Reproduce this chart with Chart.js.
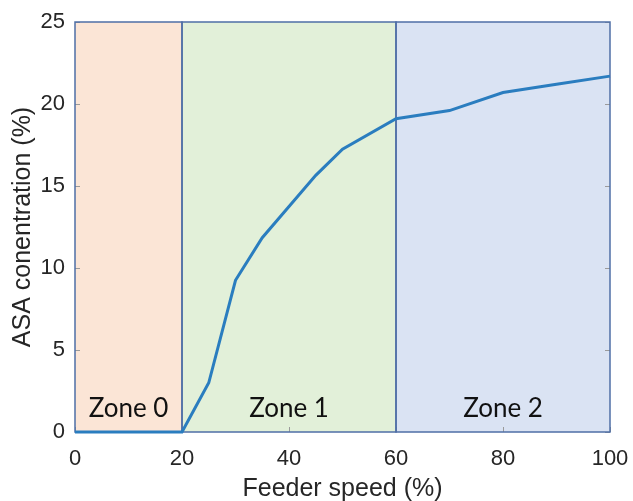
<!DOCTYPE html>
<html><head><meta charset="utf-8">
<script src="https://cdn.jsdelivr.net/npm/chart.js@4/dist/chart.umd.min.js"></script>
<style>html,body{margin:0;padding:0;background:#fff}#wrap{width:633px;height:501px}</style>
</head><body><div id="wrap"><canvas id="c" width="633" height="501"></canvas></div>
<script>
const feederSpeed = [0, 20, 25, 30, 35, 40, 45, 50, 60, 70, 80, 90, 100];
const asaConc =     [0, 0, 3.0, 9.25, 11.85, 13.75, 15.65, 17.25, 19.1, 19.6, 20.7, 21.2, 21.7];
const zoneNames = ['Zone 0', 'Zone 1', 'Zone 2'];
const zoneStart = [0, 20, 60];
const zoneEnd = [20, 60, 100];
const zoneColors = ['#FBE5D6', '#E2F0D9', '#DAE3F3'];
const xTicks = [0, 20, 40, 60, 80, 100];
const yTicks = [0, 5, 10, 15, 20, 25];

const zonesPlugin = {
  id: 'zones',
  beforeDatasetsDraw(chart) {
    const {ctx, scales: {x, y}} = chart;
    ctx.save();
    const t = y.getPixelForValue(25), b = y.getPixelForValue(0);
    for (let i = 0; i < zoneNames.length; i++) {
      const l = x.getPixelForValue(zoneStart[i]), r = x.getPixelForValue(zoneEnd[i]);
      ctx.fillStyle = zoneColors[i];
      ctx.fillRect(l, t, r - l, b - t);
    }
    // inward tick marks
    ctx.strokeStyle = '#9a9a9a';
    ctx.lineWidth = 1;
    const l0 = x.getPixelForValue(0), r0 = x.getPixelForValue(100);
    xTicks.forEach(v => { const px = Math.round(x.getPixelForValue(v)) + 0.5;
      ctx.beginPath(); ctx.moveTo(px, b); ctx.lineTo(px, b - 5); ctx.stroke(); });
    yTicks.forEach(v => { const py = Math.round(y.getPixelForValue(v)) + 0.5;
      ctx.beginPath(); ctx.moveTo(l0, py); ctx.lineTo(l0 + 5, py); ctx.stroke();
      ctx.beginPath(); ctx.moveTo(r0, py); ctx.lineTo(r0 - 5, py); ctx.stroke(); });
    // zone borders
    ctx.strokeStyle = '#4F6FA6';
    ctx.lineWidth = 1.5;
    for (let i = 0; i < zoneNames.length; i++) {
      const l = x.getPixelForValue(zoneStart[i]), r = x.getPixelForValue(zoneEnd[i]);
      ctx.strokeRect(l, t, r - l, b - t);
    }
    // labels
    ctx.fillStyle = '#111';
    ctx.font = '26px Lato';
    ctx.textAlign = 'center';
    ctx.textBaseline = 'middle';
    for (let i = 0; i < zoneNames.length; i++) {
      const cx = x.getPixelForValue((zoneStart[i] + zoneEnd[i]) / 2);
      ctx.fillText(zoneNames[i], cx, y.getPixelForValue(1.45));
    }
    ctx.restore();
  }
};

new Chart(document.getElementById('c'), {
  type: 'line',
  data: {
    datasets: [{
      data: feederSpeed.map((v, i) => ({x: v, y: asaConc[i]})),
      borderColor: '#2A7DBF',
      borderWidth: 3,
      pointRadius: 0,
      tension: 0,
      clip: false
    }]
  },
  plugins: [zonesPlugin],
  options: {
    responsive: false,
    animation: false,
    devicePixelRatio: 1,
    layout: {padding: {left: 0, right: 23, top: 22, bottom: 0}},
    plugins: {legend: {display: false}, tooltip: {enabled: false}},
    scales: {
      x: {
        type: 'linear', min: 0, max: 100,
        afterBuildTicks: s => { s.ticks = xTicks.map(v => ({value: v})); },
        afterFit: s => { s.height = 69; s.paddingLeft = 0; s.paddingRight = 0; },
        grid: {display: false, drawTicks: false},
        border: {display: false},
        ticks: {color: '#262626', font: {family: 'Liberation Sans', size: 22}, padding: 14, maxRotation: 0},
        title: {display: true, text: 'Feeder speed (%)', color: '#262626', font: {family: 'Liberation Sans', size: 25}, padding: {top: 0, bottom: -3}}
      },
      y: {
        min: 0, max: 25,
        afterBuildTicks: s => { s.ticks = yTicks.map(v => ({value: v})); },
        afterFit: s => { s.width = 75; s.paddingTop = 0; s.paddingBottom = 0; },
        grid: {display: false, drawTicks: false},
        border: {display: false},
        ticks: {color: '#262626', font: {family: 'Liberation Sans', size: 22}, padding: 10},
        title: {display: true, text: 'ASA conentration (%)', color: '#262626', font: {family: 'Liberation Sans', size: 25}, padding: {top: 8, bottom: 0}}
      }
    }
  }
});
</script></body></html>
